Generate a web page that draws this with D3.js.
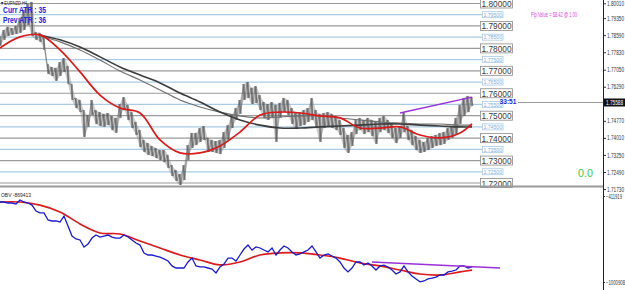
<!DOCTYPE html>
<html><head><meta charset="utf-8">
<script src="https://cdn.jsdelivr.net/npm/d3@7"></script>
<style>body{margin:0;background:#fff}svg{display:block}</style>
</head><body>
<svg id="c" width="625" height="290"></svg>
<script>
// ---------- DATA ----------
const symbolLabel = "EURNZD,H4";
const highs = [1.7855,1.7882,1.7896,1.7891,1.7900,1.7936,1.7971,1.7998,1.8007,1.7873,
 1.7869,1.7855,1.7731,1.7717,1.7713,1.7739,1.7757,1.7722,1.7641,1.7579,
 1.7570,1.7525,1.7503,1.7570,1.7525,1.7516,1.7508,1.7512,1.7499,1.7490,
 1.7552,1.7583,1.7548,1.7516,1.7472,1.7436,1.7392,1.7378,1.7365,1.7356,
 1.7347,1.7347,1.7325,1.7280,1.7258,1.7240,1.7280,1.7369,1.7423,1.7423,
 1.7445,1.7454,1.7401,1.7392,1.7387,1.7392,1.7427,1.7458,1.7503,1.7534,
 1.7570,1.7641,1.7650,1.7624,1.7632,1.7592,1.7561,1.7552,1.7561,1.7548,
 1.7557,1.7579,1.7570,1.7534,1.7516,1.7516,1.7525,1.7534,1.7579,1.7525,
 1.7508,1.7512,1.7516,1.7508,1.7499,1.7481,1.7445,1.7414,1.7427,1.7481,
 1.7490,1.7481,1.7490,1.7481,1.7472,1.7490,1.7499,1.7481,1.7463,1.7445,
 1.7454,1.7516,1.7454,1.7436,1.7409,1.7392,1.7383,1.7401,1.7409,1.7414,
 1.7423,1.7427,1.7445,1.7454,1.7490,1.7548,1.7579,1.7588,1.7583];
const lows = [1.7811,1.7838,1.7855,1.7860,1.7864,1.7869,1.7882,1.7904,1.7855,1.7838,
 1.7829,1.7793,1.7686,1.7677,1.7655,1.7677,1.7695,1.7641,1.7570,1.7534,
 1.7516,1.7405,1.7450,1.7503,1.7463,1.7454,1.7450,1.7458,1.7436,1.7423,
 1.7490,1.7525,1.7481,1.7445,1.7414,1.7360,1.7338,1.7325,1.7320,1.7311,
 1.7302,1.7293,1.7267,1.7231,1.7209,1.7191,1.7213,1.7302,1.7356,1.7369,
 1.7383,1.7392,1.7338,1.7338,1.7334,1.7329,1.7356,1.7392,1.7445,1.7481,
 1.7508,1.7570,1.7579,1.7552,1.7557,1.7525,1.7490,1.7481,1.7494,1.7383,
 1.7490,1.7516,1.7503,1.7463,1.7445,1.7454,1.7458,1.7472,1.7481,1.7450,
 1.7383,1.7445,1.7450,1.7445,1.7436,1.7414,1.7356,1.7334,1.7365,1.7418,
 1.7436,1.7418,1.7427,1.7409,1.7374,1.7427,1.7436,1.7423,1.7401,1.7378,
 1.7401,1.7427,1.7392,1.7369,1.7347,1.7334,1.7338,1.7347,1.7356,1.7365,
 1.7369,1.7374,1.7392,1.7401,1.7414,1.7463,1.7499,1.7516,1.7543];

const maIndex = [0,5,10,15,20,25,30,35,40,45,50,55,60,65,70,75,80,85,90,95,100,105,110,115,118];
const maFast  = [1.7802,1.7851,1.7860,1.7793,1.7695,1.7592,1.7534,1.7512,1.7392,1.7334,1.7334,1.7365,
 1.7427,1.7503,1.7516,1.7512,1.7499,1.7490,1.7445,1.7445,1.7450,1.7414,1.7401,1.7423,1.7463];

const maSlowIndex = [10,15,20,25,30,35,40,45,50,55,60,65,70,75,80,85,90,95,100,105,110,115,118];
const maSlowA = [1.7860,1.7838,1.7806,1.7762,1.7717,1.7681,1.7646,1.7601,1.7561,1.7516,1.7481,1.7458,
 1.7445,1.7445,1.7450,1.7454,1.7458,1.7463,1.7463,1.7458,1.7454,1.7450,1.7450];
const maSlowB = [1.7855,1.7829,1.7793,1.7748,1.7699,1.7659,1.7615,1.7570,1.7539,1.7516,1.7499,1.7490,
 1.7494,1.7499,1.7499,1.7490,1.7481,1.7472,1.7467,1.7463,1.7463,1.7458,1.7458];

const trendIndex = [100, 118];
const trendPrice = [1.7512, 1.7583];

const majorLevels = [1.80,1.79,1.78,1.77,1.76,1.75,1.74,1.73,1.72];
const halfLevels  = [1.795,1.785,1.775,1.765,1.755,1.745,1.735,1.725];
const priceTicks  = [1.80010,1.79350,1.78590,1.77830,1.77050,1.76290,1.74770,1.74010,1.73250,1.72490,1.71730];
const currentPrice = 1.75588;
const timerText = "33:51";
const atrLines = ["Curr ATR : 35", "Prev ATR : 36"];
const pipText = "Pip Value = $8.42 @ 1.00";
const signalText = "0.0";

const obv = [-453000,-453000,-460000,-460000,-467000,-439000,-453000,-460000,-474000,-515000,
 -528000,-528000,-576000,-583000,-583000,-590000,-549000,-617000,-686000,-706000,
 -713000,-761000,-741000,-700000,-679000,-693000,-686000,-679000,-693000,-700000,
 -700000,-679000,-693000,-713000,-734000,-748000,-802000,-816000,-816000,-823000,
 -830000,-843000,-857000,-891000,-905000,-905000,-905000,-864000,-837000,-891000,
 -898000,-898000,-905000,-912000,-939000,-898000,-878000,-837000,-837000,-857000,
 -816000,-775000,-748000,-782000,-761000,-768000,-782000,-795000,-768000,-816000,
 -782000,-754000,-768000,-795000,-816000,-809000,-795000,-782000,-754000,-795000,
 -837000,-816000,-809000,-823000,-837000,-864000,-905000,-932000,-905000,-864000,
 -864000,-885000,-871000,-891000,-919000,-891000,-885000,-898000,-919000,-946000,
 -932000,-891000,-932000,-960000,-980000,-1000000,-994000,-980000,-974000,-967000,
 -953000,-953000,-932000,-926000,-919000,-891000,-891000,-905000,-898000];
const obvMa = [-453000,-453000,-474000,-521000,-603000,-665000,-672000,-720000,-768000,-816000,
 -850000,-884000,-864000,-816000,-802000,-802000,-816000,-837000,-871000,-891000,
 -919000,-946000,-953000,-932000,-919000];
const obvTrendIndex = [93, 125];
const obvTrend = [-864000, -905000];
const obvTicks = [-411919, -1000908];
const obvLabel = "OBV -869413";

// ---------- LAYOUT ----------
const svg = d3.select("#c");
const axisX = 603;
const x = d3.scaleLinear().domain([0, 118]).range([0, 472]);
const y = d3.scaleLinear().domain([1.72, 1.80]).range([183, 3.5]);
const yo = d3.scaleLinear().domain([-1000908, -411919]).range([282, 196]);

const main = svg.append("g");
main.append("clipPath").attr("id","mclip").append("rect").attr("x",0).attr("y",0).attr("width",axisX).attr("height",186);
const sub = svg.append("g");
sub.append("clipPath").attr("id","sclip").append("rect").attr("x",0).attr("y",188).attr("width",axisX).attr("height",102);

// level lines
const lv = main.append("g");
lv.selectAll(".maj").data(majorLevels).join("line")
  .attr("x1",0).attr("x2",480).attr("y1",d=>y(d)).attr("y2",d=>y(d))
  .attr("stroke","#9a9a9a").attr("stroke-width",1.2);
lv.selectAll(".half").data(halfLevels).join("line")
  .attr("x1",0).attr("x2",482).attr("y1",d=>y(d)).attr("y2",d=>y(d))
  .attr("stroke","#a9cbe6").attr("stroke-width",1.2);

// price bars
const idx = d3.range(highs.length);
const pg = main.append("g").attr("clip-path","url(#mclip)");
pg.append("path").datum(idx)
  .attr("d", d3.area().curve(d3.curveMonotoneX).x(i=>x(i)).y0(i=>y(lows[i])).y1(i=>y(highs[i])))
  .attr("fill","#8c8c8c").attr("opacity",0.45);
const zig = [];
idx.forEach(i=>{ zig.push([x(i)-1, y(highs[i])]); zig.push([x(i)+1, y(lows[i])]); });
pg.append("path").attr("d", d3.line()(zig)).attr("fill","none").attr("stroke","#5c5c5c").attr("stroke-width",0.6);
pg.selectAll(".bar").data(idx).join("line")
  .attr("x1",i=>x(i)).attr("x2",i=>x(i)).attr("y1",i=>y(highs[i])).attr("y2",i=>y(lows[i]))
  .attr("stroke","#4a4a4a").attr("stroke-width",0.9);

// moving averages
const maLine = (ix, vals, sc) => d3.line().curve(d3.curveCatmullRom).x((d,k)=>x(ix[k])).y(d=>sc(d))(vals);
pg.append("path").attr("d", maLine(maSlowIndex, maSlowB, y)).attr("fill","none").attr("stroke","#6e6e6e").attr("stroke-width",1.1);
pg.append("path").attr("d", maLine(maSlowIndex, maSlowA, y)).attr("fill","none").attr("stroke","#3c3c3c").attr("stroke-width",1.6);
pg.append("path").attr("d", maLine(maIndex, maFast, y)).attr("fill","none").attr("stroke","#dd1a1a").attr("stroke-width",1.7);
pg.append("line").attr("x1",x(trendIndex[0])).attr("x2",x(trendIndex[1])).attr("y1",y(trendPrice[0])).attr("y2",y(trendPrice[1]))
  .attr("stroke","#9a30d8").attr("stroke-width",1.4);

// level labels
const ll = main.append("g");
majorLevels.forEach(v=>{
  ll.append("rect").attr("x",480.5).attr("y",y(v)-4.5).attr("width",32).attr("height",9)
    .attr("fill","#fff").attr("stroke","#8a8a8a").attr("stroke-width",0.8);
  ll.append("text").attr("x",481.5).attr("y",y(v)+3.5).text(v.toFixed(5))
    .attr("font-family","Liberation Sans, Arial, sans-serif").attr("font-size",9.5).attr("fill","#3a3a3a")
    .attr("textLength",30).attr("lengthAdjust","spacingAndGlyphs");
});
halfLevels.forEach(v=>{
  ll.append("rect").attr("x",482.5).attr("y",y(v)-3).attr("width",20.5).attr("height",6)
    .attr("fill","#fff").attr("stroke","#9cc2e6").attr("stroke-width",0.7);
  ll.append("text").attr("x",483.5).attr("y",y(v)+2.2).text(v.toFixed(5))
    .attr("font-family","Liberation Sans, Arial, sans-serif").attr("font-size",6).attr("fill","#7aaee0")
    .attr("textLength",18.5).attr("lengthAdjust","spacingAndGlyphs");
});

// current price line and timer
main.append("line").attr("x1",518).attr("x2",axisX).attr("y1",y(currentPrice)).attr("y2",y(currentPrice))
  .attr("stroke","#9a9a9a").attr("stroke-width",1);
main.append("text").attr("x",499.5).attr("y",y(currentPrice)+1.5).text(timerText)
  .attr("font-family","Liberation Sans, Arial, sans-serif").attr("font-weight","bold").attr("font-size",7.5)
  .attr("fill","#1c1cd0").attr("textLength",17).attr("lengthAdjust","spacingAndGlyphs");

// texts
main.append("text").attr("x",1).attr("y",4.5).text("\u25BE " + symbolLabel)
  .attr("font-family","Liberation Sans, Arial, sans-serif").attr("font-size",5.5).attr("fill","#222")
  .attr("textLength",26).attr("lengthAdjust","spacingAndGlyphs");
atrLines.forEach((t,k)=>{
  main.append("text").attr("x",3).attr("y",13+k*10).text(t)
    .attr("font-family","Liberation Sans, Arial, sans-serif").attr("font-weight","bold").attr("font-size",9)
    .attr("fill","#2424d8").attr("textLength",43).attr("lengthAdjust","spacingAndGlyphs");
});
main.append("text").attr("x",531).attr("y",17).text(pipText)
  .attr("font-family","Liberation Sans, Arial, sans-serif").attr("font-size",6.5).attr("fill","#e040e0")
  .attr("textLength",46).attr("lengthAdjust","spacingAndGlyphs");
main.append("text").attr("x",578).attr("y",176.5).text(signalText)
  .attr("font-family","Liberation Sans, Arial, sans-serif").attr("font-size",10.5).attr("fill","#46c846")
  .attr("textLength",15).attr("lengthAdjust","spacingAndGlyphs");

// OBV panel
const og = sub.append("g").attr("clip-path","url(#sclip)");
const obvLine = d3.line().x((d,i)=>x(i)).y(d=>yo(d));
og.append("path").attr("d", maLine(maIndex, obvMa, yo)).attr("fill","none").attr("stroke","#dd1a1a").attr("stroke-width",1.7);
og.append("path").attr("d", obvLine(obv)).attr("fill","none").attr("stroke","#1a1ad0").attr("stroke-width",1.3);
og.append("line").attr("x1",x(obvTrendIndex[0])).attr("x2",x(obvTrendIndex[1])).attr("y1",yo(obvTrend[0])).attr("y2",yo(obvTrend[1]))
  .attr("stroke","#9a30d8").attr("stroke-width",1.3);
sub.append("text").attr("x",1).attr("y",197).text(obvLabel)
  .attr("font-family","Liberation Sans, Arial, sans-serif").attr("font-size",6).attr("fill","#222")
  .attr("textLength",30).attr("lengthAdjust","spacingAndGlyphs");

// separator
svg.append("line").attr("x1",0).attr("x2",axisX).attr("y1",186.5).attr("y2",186.5).attr("stroke","#9a9a9a").attr("stroke-width",2);

// right axes
const ax = svg.append("g").attr("transform",`translate(${axisX},0)`)
  .call(d3.axisRight(y).tickValues(priceTicks).tickFormat(d3.format(".5f")).tickSize(3).tickPadding(1));
const ax2 = svg.append("g").attr("transform",`translate(${axisX},0)`)
  .call(d3.axisRight(yo).tickValues(obvTicks).tickFormat(d3.format("d")).tickSize(2).tickPadding(1));
[ax, ax2].forEach(a=>{
  a.select(".domain").remove();
  a.selectAll("text").attr("font-family","Liberation Sans, Arial, sans-serif").attr("font-size",6.5).attr("fill","#333")
   .attr("lengthAdjust","spacingAndGlyphs");
  a.selectAll("line").attr("stroke","#333");
});
ax.selectAll("text").attr("textLength",17);
ax2.selectAll("text").attr("textLength",(d)=> d < -999999 ? 19 : 16);
svg.append("line").attr("x1",axisX+0.5).attr("x2",axisX+0.5).attr("y1",0).attr("y2",290).attr("stroke","#222").attr("stroke-width",1);

// current price tag
svg.append("rect").attr("x",axisX+1).attr("y",y(currentPrice)-4).attr("width",22).attr("height",8).attr("fill","#111");
svg.append("text").attr("x",axisX+3).attr("y",y(currentPrice)+2.5).text(currentPrice.toFixed(5))
  .attr("font-family","Liberation Sans, Arial, sans-serif").attr("font-size",6.5).attr("fill","#fff")
  .attr("textLength",17).attr("lengthAdjust","spacingAndGlyphs");
</script>
</body></html>
